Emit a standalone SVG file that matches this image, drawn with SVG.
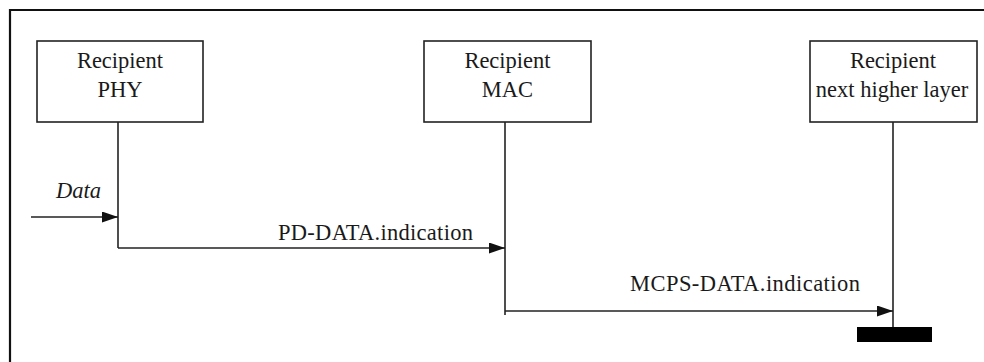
<svg xmlns="http://www.w3.org/2000/svg" width="984" height="362" viewBox="0 0 984 362">
  <style>
    .box { fill: #ffffff; stroke: #222222; stroke-width: 1.6; }
    .lbl { font-size: 22.5px; fill: #1a1a1a; }
    .mid { text-anchor: middle; }
    .line { fill: none; stroke: #222222; stroke-width: 1.6; }
  </style>
  <defs>
    <marker id="arrow" viewBox="0 0 16 11" refX="16" refY="5.5" markerWidth="16" markerHeight="11" markerUnits="userSpaceOnUse" orient="auto">
      <path d="M0,0 L16,5.5 L0,11 Z" fill="#111111"/>
    </marker>
  </defs>

  <rect x="0" y="0" width="984" height="362" fill="#ffffff"/>
  <!-- frame: top and left edges -->
  <path d="M10,362 L10,10 L984,10" fill="none" stroke="#111111" stroke-width="2.2"/>

  <g font-family="'Liberation Serif', 'DejaVu Serif', serif">
    <g id="node-phy">
      <rect class="box" x="37" y="41" width="166" height="81"/>
      <text class="lbl mid" x="120" y="68">Recipient</text>
      <text class="lbl mid" x="120" y="97">PHY</text>
    </g>

    <g id="node-mac">
      <rect class="box" x="424" y="41" width="167" height="81"/>
      <text class="lbl mid" x="507.5" y="68">Recipient</text>
      <text class="lbl mid" x="507.5" y="97">MAC</text>
    </g>

    <g id="node-nhl">
      <rect class="box" x="810" y="41" width="167" height="81"/>
      <text class="lbl mid" x="893" y="68">Recipient</text>
      <text class="lbl mid" x="892" y="97">next higher layer</text>
    </g>

    <g id="connectors">
      <!-- lifelines -->
      <path class="line" d="M118,122 L118,248"/>
      <path class="line" d="M505,122 L505,315"/>
      <path class="line" d="M893,122 L893,328"/>
      <!-- messages -->
      <path class="line" d="M31,217 L118,217" marker-end="url(#arrow)"/>
      <path class="line" d="M118,248 L505,248" marker-end="url(#arrow)"/>
      <path class="line" d="M505,311 L893,311" marker-end="url(#arrow)"/>
      <!-- end bar -->
      <rect x="857" y="327" width="75" height="15" fill="#000000"/>
    </g>

    <g id="labels">
      <text class="lbl" x="56" y="198" font-style="italic">Data</text>
      <text class="lbl" x="278" y="240" textLength="195" lengthAdjust="spacing">PD-DATA.indication</text>
      <text class="lbl" x="630" y="291" textLength="230" lengthAdjust="spacing">MCPS-DATA.indication</text>
    </g>
  </g>
</svg>
